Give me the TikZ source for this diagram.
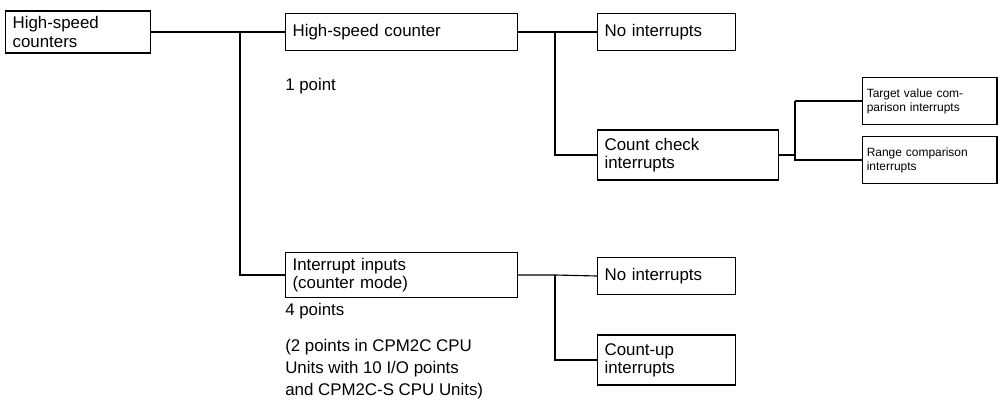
\documentclass[tikz,border=0pt]{standalone}
\usepackage{fontspec}
\setmainfont{Liberation Sans}
\usetikzlibrary{positioning}
\tikzstyle{box} = [draw,thick,anchor=west,align=left,inner xsep=5pt,inner ysep=4pt,font=\fontsize{12}{13}\selectfont]
\tikzstyle{sbox} = [box,inner xsep=3pt,font=\fontsize{8.5}{10}\selectfont]
\tikzstyle{note} = [anchor=north west,align=left,inner sep=0pt,font=\fontsize{12}{15.5}\selectfont]
\tikzstyle{link} = [thick]

\begin{document}
\begin{tikzpicture}[x=0.025cm,y=-0.025cm]
        \useasboundingbox (0,0) rectangle (1004,407);
        \node[box, text width=131*0.025cm, minimum height=37*0.025cm] at (5,32) (hsc) {High-speed\\counters};
        \node[box, text width=218*0.025cm, minimum height=37*0.025cm] at (285,32) (cnt) {High-speed counter};
        \node[box, text width=124*0.025cm, minimum height=37*0.025cm] at (597,32) (ni1) {No interrupts};
        \node[box, text width=167*0.025cm, minimum height=50*0.025cm] at (597,155) (cc) {Count check\\interrupts};
        \node[sbox, text width=126*0.025cm, minimum height=47*0.025cm] at (862,101) (tv) {Target value com-\\parison interrupts};
        \node[sbox, text width=126*0.025cm, minimum height=47*0.025cm] at (862,160) (rc) {Range comparison\\interrupts};
        \node[box, text width=218*0.025cm, minimum height=40*0.025cm] at (285,275) (ii) {Interrupt inputs\\(counter mode)};
        \node[box, text width=124*0.025cm, minimum height=37*0.025cm] at (597,276) (ni2) {No interrupts};
        \node[box, text width=124*0.025cm, minimum height=50*0.025cm] at (597,360) (cu) {Count-up\\interrupts};

        \node[note] at (285,78) (p1) {1 point};
        \node[note] at (285,303) (p4) {4 points};
        \node[note] at (285,339) (pn) {(2 points in CPM2C CPU\\Units with 10 I/O points\\and CPM2C-S CPU Units)};

        \draw[link] (hsc.east) -- (240,32) -- (cnt.west);
        \draw[link] (240,32) |- (ii.west);
        \draw[link] (cnt.east) -- (555,32) -- (ni1.west);
        \draw[link] (555,32) |- (cc.west);
        \draw[link] (cc.east) -- (795,155);
        \draw[link] (795,101) -- (tv.west);
        \draw[link] (795,101) |- (rc.west);
        \draw[link] (ii.east) -- (555,275) -- (ni2.west);
        \draw[link] (555,275) |- (cu.west);
    \end{tikzpicture}
\end{document}
